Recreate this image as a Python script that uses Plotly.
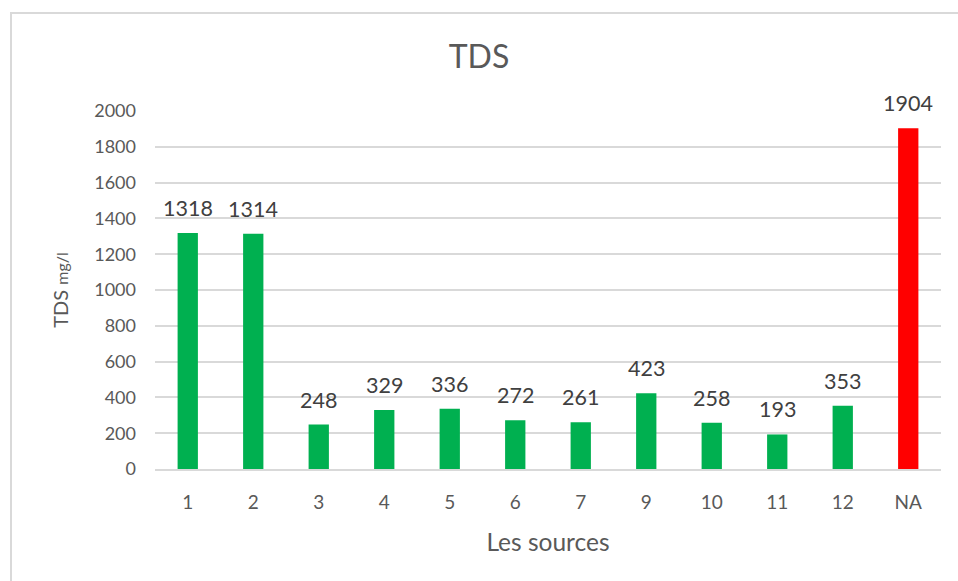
import plotly.graph_objects as go

categories = ["1", "2", "3", "4", "5", "6", "7", "9", "10", "11", "12", "NA"]
tds_values = [1318, 1314, 248, 329, 336, 272, 261, 423, 258, 193, 353, 1904]
bar_colors = ["#00B050"] * 11 + ["#FF0000"]
y_ticks = [0, 200, 400, 600, 800, 1000, 1200, 1400, 1600, 1800, 2000]

FONT = "Lato, Open Sans, sans-serif"
GRAY = "#595959"

fig = go.Figure()
fig.add_trace(go.Bar(
    x=categories, y=tds_values,
    marker=dict(color=bar_colors, line=dict(width=0)),
    width=0.31,
))

for i, v in enumerate(tds_values):
    fig.add_annotation(x=i, y=v, text=str(v), showarrow=False,
                       xref="x", yref="y",
                       yanchor="bottom", yshift=10,
                       font=dict(family=FONT, size=21.5, color="#404040"))

fig.update_layout(
    width=958, height=581,
    margin=dict(l=155, r=17, t=111, b=112),
    paper_bgcolor="white", plot_bgcolor="white",
    showlegend=False,
    font=dict(family=FONT, color=GRAY),
    title=dict(text="TDS", x=0.5, xanchor="center", y=0.902, yanchor="middle",
               font=dict(family=FONT, size=32, color=GRAY)),
    xaxis=dict(
        type="category", categoryorder="array", categoryarray=categories,
        tickfont=dict(size=19, color=GRAY), ticks="", showgrid=False,
        ticklabelstandoff=15,
        showline=True, linecolor="#d9d9d9", linewidth=2,
        title=dict(text="Les sources", font=dict(size=24.5, color=GRAY), standoff=22),
        range=[-0.5, 11.5],
    ),
    yaxis=dict(
        range=[0, 2000], tickvals=y_ticks, ticktext=[str(t) for t in y_ticks],
        tickfont=dict(size=18, color=GRAY), ticks="", ticklabelstandoff=18,
        showgrid=True, gridcolor="#d9d9d9", gridwidth=2, zeroline=False,
        title=dict(text="TDS <span style='font-size:16px'>mg/l</span>",
                   font=dict(size=20, color=GRAY), standoff=20),
    ),
)

fig.add_shape(type="rect", xref="paper", yref="paper",
              x0=(11 - 155) / 786, x1=(975 - 155) / 786,
              y0=(469 - 600) / 358, y1=(469 - 13) / 358,
              line=dict(color="#d9d9d9", width=2), fillcolor="rgba(0,0,0,0)",
              layer="below")

fig.write_html("out.html", config={"displayModeBar": False},
               post_script="document.body.style.margin='0';document.body.style.overflow='hidden';")
